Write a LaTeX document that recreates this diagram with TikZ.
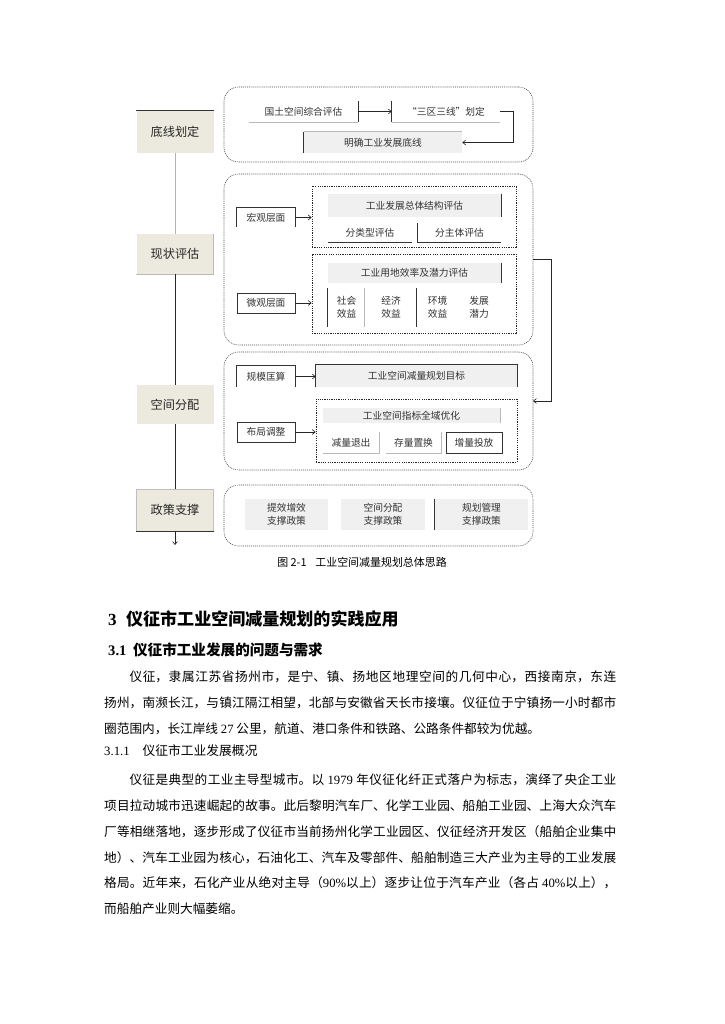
\documentclass[tikz,border=0pt]{standalone}
\usepackage{fontspec}
\setmainfont{Noto Sans CJK SC}
\newfontfamily\latin{Liberation Serif}
\usetikzlibrary{arrows.meta}
\XeTeXlinebreaklocale "zh"
\XeTeXlinebreakskip=0pt plus 1pt

\definecolor{sidefill}{RGB}{236,234,222}
\definecolor{boxfill}{RGB}{240,240,240}

\tikzset{
  wh/.style 2 args={minimum width=#1*0.822pt, minimum height=#2*0.822pt},
  sidebox/.style={fill=sidefill, inner sep=0pt, font=\fontsize{10}{12}\selectfont, text=black!85},
  graybox/.style={fill=boxfill, inner sep=0pt, font=\fontsize{8}{10.5}\selectfont, text=black!80, align=center},
  whitebox/.style={fill=white, inner sep=0pt, font=\fontsize{8}{10.5}\selectfont, text=black!80, align=center},
  framebox/.style={whitebox, draw=black!80, line width=0.6pt},
  group/.style={draw=black!70, line width=0.5pt, dash pattern=on 0.8pt off 0.8pt, rounded corners=12pt, inner sep=0pt},
  subgroup/.style={draw=black!85, line width=0.5pt, dash pattern=on 1pt off 0.9pt, inner sep=0pt},
  edge/.style={draw=black!80, line width=0.7pt},
  softedge/.style={draw=gray!55, line width=0.6pt},
  link/.style={draw=black!85, line width=0.5pt, ->},
  >={Straight Barb[length=2.5pt,width=4pt]}
}

\begin{document}
\begin{tikzpicture}[x=0.822pt, y=-0.822pt]
    \useasboundingbox[fill=white] (0,0) rectangle (724,1024);

    % Left column: the four stages
    \node[sidebox, wh={77}{42}] (dx) at (175,132) {底线划定};
    \node[sidebox, wh={77}{40}] (xz) at (175,254) {现状评估};
    \node[sidebox, wh={77}{39}] (kj) at (175,404.5) {空间分配};
    \node[sidebox, wh={77}{42}, draw=gray!50, line width=0.4pt] (zc) at (175,510) {政策支撑};
    \coordinate (zcend) at (175,545);
    \draw[edge] (dx.north west) -- (dx.north east);
    \draw[softedge] (xz.north east) -- (xz.south east) -- (xz.south west);
    \draw[edge] (zc.south west) -- (zc.south east);

    % Spine
    \draw[gray!60, line width=0.6pt] (dx.south) -- (xz.north);
    \draw[black!85, line width=0.6pt] (xz.south) -- (kj.north);
    \draw[black!85, line width=0.6pt] (kj.south) -- (zc.north);
    \draw[link] (zc.south) -- (zcend);

    % Rounded groups
    \node[group, wh={309}{75}] (c1) at (378.5,124.5) {};
    \node[group, wh={309}{171}] (c2) at (378.5,259.5) {};
    \node[group, wh={309}{118}] (c3) at (378.5,411) {};
    \node[group, wh={309}{61}] (c4) at (378.5,515.5) {};

    % Group 1: baseline
    \node[whitebox, wh={109}{21}] (gtpj) at (303.5,111.5) {国土空间综合评估};
    \node[whitebox, wh={108}{21}] (sqsx) at (446,111.5) {“三区三线”划定};
    \node[graybox, wh={158}{21}] (mqdx) at (383,142.5) {明确工业发展底线};
    \draw[softedge] (gtpj.south west) -- (gtpj.south east);
    \draw[edge] (gtpj.north east) -- (gtpj.south east);
    \draw[edge] (sqsx.north west) -- (sqsx.south west);
    \draw[softedge] (sqsx.south west) -- (sqsx.south east);
    \draw[softedge] (mqdx.north west) -- (mqdx.north east);
    \draw[edge] (mqdx.north west) -- (mqdx.south west);
    \draw[link] (gtpj.east) -- (sqsx.west);
    \draw[link] (sqsx.east) -- ++(13,0) |- (mqdx.east);

    % Group 2: current state
    \node[subgroup, wh={204}{61}] (hgset) at (414,216.5) {};
    \node[subgroup, wh={204}{79}] (wgset) at (414,293.5) {};
    \node[whitebox, wh={58}{19}] (hg) at (266,217.5) {宏观层面};
    \node[framebox, wh={58}{20}] (wg) at (266,303) {微观层面};
    \draw[edge] (hg.south west) -- (hg.north west) -- (hg.north east) -- (hg.south east);
    \node[graybox, wh={173}{23}] (jgpj) at (414.5,205.5) {工业发展总体结构评估};
    \node[whitebox, wh={84}{19}] (flx) at (370,232.5) {分类型评估};
    \node[whitebox, wh={83}{19}] (fzt) at (459.5,232.5) {分主体评估};
    \draw[edge] (jgpj.north east) -- (jgpj.south east);
    \draw[edge] (flx.south west) -- (flx.south east);
    \draw[edge] (fzt.north west) -- (fzt.south west) -- (fzt.south east);
    \node[graybox, wh={173}{20}] (xlpj) at (414.5,273) {工业用地效率及潜力评估};
    \node[whitebox, wh={37}{39}] (sh) at (346.5,307.5) {社会\\效益};
    \node[whitebox, wh={52}{39}] (jj) at (391,307.5) {经济\\效益};
    \node[whitebox, wh={41}{39}] (hj) at (437.5,307.5) {环境\\效益};
    \node[whitebox, wh={42}{39}] (fz) at (479,307.5) {发展\\潜力};
    \draw[edge] (xlpj.north east) -- (xlpj.south east);
    \draw[edge] (sh.north west) -- (sh.south west);
    \draw[softedge] (jj.north west) -- (jj.south west);
    \draw[edge] (hj.north west) -- (hj.south west);
    \draw[link] (hg.east) -- (hg.east -| hgset.west);
    \draw[link] (wg.east) -- (wg.east -| wgset.west);

    % Feedback from assessment to allocation
    \coordinate (kjin) at (533,401);
    \draw[link] (c2.east) -- ++(18,0) |- (kjin);

    % Group 3: allocation
    \node[subgroup, wh={201}{63}] (bjset) at (416.5,430.5) {};
    \node[whitebox, wh={58}{21}] (gm) at (266,376.5) {规模匡算};
    \node[graybox, wh={201}{22}] (mb) at (416.5,376) {工业空间减量规划目标};
    \node[framebox, wh={58}{20}] (bj) at (266,432) {布局调整};
    \draw[edge] (gm.south west) -- (gm.north west) -- (gm.north east) -- (gm.south east);
    \draw[edge] (mb.south west) -- (mb.north west) -- (mb.north east) -- (mb.south east);
    \node[graybox, wh={177}{15}] (qy) at (411.5,415.5) {工业空间指标全域优化};
    \node[whitebox, wh={56}{21}] (jl) at (351,442.5) {减量退出};
    \node[whitebox, wh={55}{21}] (cl) at (413.5,442.5) {存量置换};
    \node[framebox, wh={56}{21}] (zl) at (474,442.5) {增量投放};
    \draw[softedge] (qy.north east) -- (qy.south east);
    \draw[softedge] (jl.north east) -- (jl.south east) -- (jl.south west);
    \draw[softedge] (cl.north east) -- (cl.south east) -- (cl.south west);
    \draw[link] (gm.east) -- (gm.east -| mb.west);
    \draw[link] (bj.east) -- (bj.east -| bjset.west);

    % Group 4: policy
    \node[graybox, wh={83}{31}] (p1) at (286.5,514.5) {提效增效\\支撑政策};
    \node[graybox, wh={84}{31}] (p2) at (383,514.5) {空间分配\\支撑政策};
    \node[graybox, wh={93}{31}] (p3) at (481.5,514.5) {规划管理\\支撑政策};
    \draw[edge] (p3.north west) -- (p3.south west);

    % Caption and body text
    \node[font=\fontsize{9}{11}\selectfont] (cap) at (362,562) {图 2-1\hspace{0.8em}工业空间减量规划总体思路};
    \node[anchor=base west, inner sep=0pt, font=\bfseries\fontsize{14}{16}\selectfont] (h3) at (108,625)
        {{\latin\bfseries 3}\hspace{0.55em}仪征市工业空间减量规划的实践应用};
    \node[anchor=base west, inner sep=0pt, font=\bfseries\fontsize{12}{14}\selectfont] (h31) at (108,655)
        {{\latin\bfseries 3.1}\hspace{0.45em}仪征市工业发展的问题与需求};
    \node[anchor=base west, inner sep=0pt, text width=420.9pt, align=justify, font=\fontsize{10.4}{21.37}\selectfont] (para1) at (104,681)
        {\hspace*{2em}仪征，隶属江苏省扬州市，是宁、镇、扬地区地理空间的几何中心，西接南京，东连\linebreak
         扬州，南濒长江，与镇江隔江相望，北部与安徽省天长市接壤。仪征位于宁镇扬一小时都市\linebreak
         圈范围内，长江岸线 {\latin 27} 公里，航道、港口条件和铁路、公路条件都较为优越。};
    \node[anchor=base west, inner sep=0pt, font=\fontsize{10.5}{12}\selectfont] (h311) at (104,755)
        {{\latin 3.1.1}\hspace{1em}仪征市工业发展概况};
    \node[anchor=base west, inner sep=0pt, text width=420.9pt, align=justify, font=\fontsize{10.4}{21.37}\selectfont] (para2) at (104,784)
        {\hspace*{2em}仪征是典型的工业主导型城市。以 {\latin 1979} 年仪征化纤正式落户为标志，演绎了央企工业\linebreak
         项目拉动城市迅速崛起的故事。此后黎明汽车厂、化学工业园、船舶工业园、上海大众汽车\linebreak
         厂等相继落地，逐步形成了仪征市当前扬州化学工业园区、仪征经济开发区（船舶企业集中\linebreak
         地）、汽车工业园为核心，石油化工、汽车及零部件、船舶制造三大产业为主导的工业发展\linebreak
         格局。近年来，石化产业从绝对主导（{\latin 90\%}以上）逐步让位于汽车产业（各占 {\latin 40\%}以上），\linebreak
         而船舶产业则大幅萎缩。};
\end{tikzpicture}
\end{document}
